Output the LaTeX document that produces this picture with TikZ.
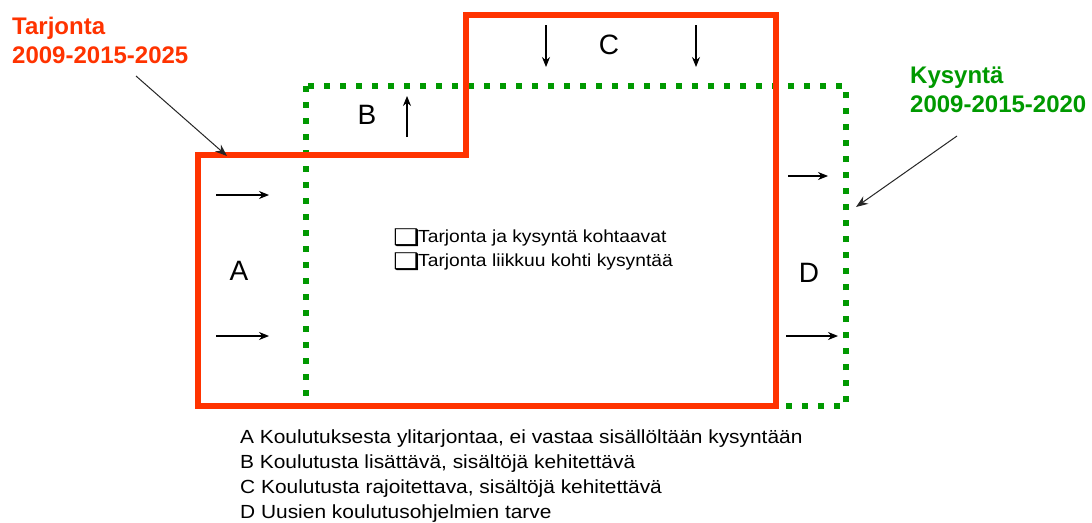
\documentclass[tikz,border=0pt]{standalone}
\usepackage{fontspec}
\setmainfont{Liberation Sans}
\newfontfamily\widefont[FakeStretch=1.1]{Liberation Sans}
\newfontfamily\symfont{DejaVu Sans}
\usetikzlibrary{arrows.meta}
\definecolor{tred}{RGB}{255,51,0}
\definecolor{kgreen}{RGB}{0,153,0}
\newcommand{\cbox}{\makebox[25pt][l]{\raisebox{-2.5pt}[0pt][0pt]{\scalebox{1.3}[1]{\symfont\fontsize{23}{21.5}\selectfont ❑}}}}
\begin{document}
\begin{tikzpicture}[x=1pt,y=-1pt,
  redline/.style={draw=tred,line width=6pt,line join=miter},
  greenline/.style={draw=kgreen,line width=6pt,dash pattern=on 6pt off 10pt},
  flow/.style={draw=black,line width=1.1pt,-{Stealth[length=10pt,width=8pt]}},
  pointer/.style={draw=black!85,line width=1pt,-{Stealth[length=12pt,width=9pt]}},
  biglabel/.style={font={\fontsize{24}{29}\selectfont\bfseries},align=left,inner sep=0pt,anchor=north west},
  region/.style={font={\fontsize{28}{30}\selectfont},inner sep=0pt},
  body/.style={font={\widefont\fontsize{19}{24.8}\selectfont},align=left,inner sep=0pt,anchor=north west}]
\useasboundingbox[fill=white] (0,0) rectangle (1092,522);
% demand (green dotted)
\draw[greenline] (306,86) rectangle (846,406);
% supply (red)
\draw[redline] (198,406) -- (198,155) -- (466,155) -- (466,15) -- (776,15) -- (776,406) -- cycle;
% labels
\node[biglabel,text=tred] (tarj) at (12,17) {Tarjonta\\2009-2015-2025};
\node[biglabel,text=kgreen] (kys) at (910,67) {Kysyntä\\2009-2015-2020};
\coordinate (tarjs) at (136,76);
\coordinate (tarje) at (227,156);
\coordinate (kyss) at (957,136);
\coordinate (kyse) at (856,207);
\draw[pointer] (tarjs) -- (tarje);
\draw[pointer] (kyss) -- (kyse);
% region letters
\node[region] (A) at (239,271) {A};
\node[region] (B) at (367,115) {B};
\node[region] (C) at (609,45) {C};
\node[region] (D) at (809,273) {D};
% flow arrows
\coordinate (a1s) at (216,195); \coordinate (a1e) at (269,195);
\coordinate (a2s) at (216,336); \coordinate (a2e) at (269,336);
\coordinate (bs) at (407,137); \coordinate (be) at (407,96);
\coordinate (c1s) at (546,25); \coordinate (c1e) at (546,67);
\coordinate (c2s) at (696,25); \coordinate (c2e) at (696,67);
\coordinate (d1s) at (788,176); \coordinate (d1e) at (828,176);
\coordinate (d2s) at (786,336); \coordinate (d2e) at (838,336);
\foreach \s/\e in {a1s/a1e,a2s/a2e,bs/be,c1s/c1e,c2s/c2e,d1s/d1e,d2s/d2e}
  \draw[flow] (\s) -- (\e);
% center text
\node[font={\widefont\fontsize{17.5}{24}\selectfont},align=left,inner sep=0pt,anchor=north west] (mid) at (393,230)
  {\cbox Tarjonta ja kysyntä kohtaavat\\\cbox Tarjonta liikkuu kohti kysyntää};
% legend
\node[body] (legend) at (240,430)
  {A Koulutuksesta ylitarjontaa, ei vastaa sisällöltään kysyntään\\
   B Koulutusta lisättävä, sisältöjä kehitettävä\\
   C Koulutusta rajoitettava, sisältöjä kehitettävä\\
   D Uusien koulutusohjelmien tarve};
\end{tikzpicture}
\end{document}
